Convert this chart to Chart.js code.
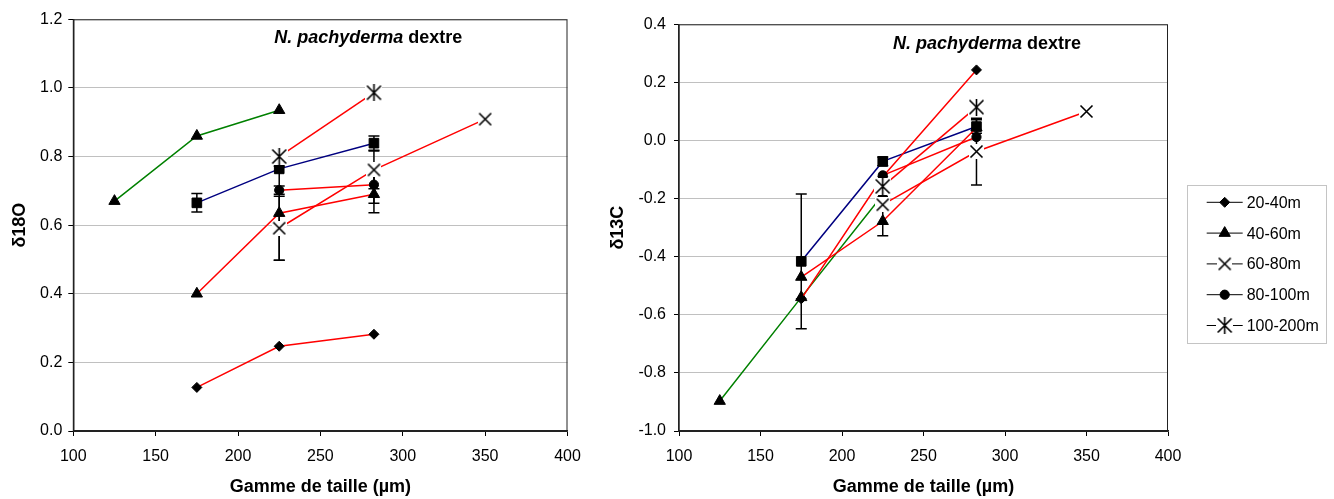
<!DOCTYPE html>
<html>
<head>
<meta charset="utf-8">
<script src="https://cdn.jsdelivr.net/npm/chart.js@4.4.1/dist/chart.umd.min.js"></script>
<style>
  html, body { margin: 0; padding: 0; background: #fff; }
  #wrap { position: relative; width: 1334px; height: 499px; }
  canvas { position: absolute; top: 0; }
  #o18 { left: 0; }
  #c13 { left: 600px; }
</style>
</head>
<body>
<div id="wrap">
  <canvas id="o18" width="600" height="499"></canvas>
  <canvas id="c13" width="734" height="499"></canvas>
</div>
<script>
// size ranges (µm) used by each group of points
const xGreen = [125, 175, 225];
const xMain = [175, 225, 282.5];
const xCross = [225, 282.5, 350];
const xPair = [225, 282.5];

// d18O values
const o18Green = [0.67, 0.86, 0.935];
const o18Square = [0.665, 0.764, 0.839];
const o18SquareErr = [0.027, 0, 0.021];
const o18Diamond = [0.127, 0.247, 0.282];
const o18Triangle = [0.40, 0.635, 0.69];
const o18TriangleErr = [0, 0.137, 0.054];
const o18Cross = [0.591, 0.761, 0.909];
const o18CrossErr = [0.093, 0.055, 0];
const o18Circle = [0.702, 0.718];
const o18CircleErr = [0.012, 0.054];
const o18Star = [0.80, 0.986];

// d13C values
const c13Green = [-0.897, -0.54, -0.187];
const c13Square = [-0.416, -0.072, 0.048];
const c13SquareErr = [0.232, 0.015, 0.023];
const c13Diamond = [-0.545, -0.125, 0.243];
const c13Triangle = [-0.47, -0.278, 0.044];
const c13TriangleErr = [0, 0.05, 0];
const c13Cross = [-0.221, -0.038, 0.10];
const c13CrossErr = [0, 0.115, 0];
const c13Circle = [-0.12, 0.012];
const c13Star = [-0.158, 0.115];

const legendLabels = ['20-40m', '40-60m', '60-80m', '80-100m', '100-200m'];
const titleItalic = 'N. pachyderma';
const titleRest = ' dextre';
const xTitle = 'Gamme de taille (µm)';

const RED = '#ff0000', GREEN = '#008000', BLUE = '#000080';
const FONT = '"Liberation Sans", Arial, sans-serif';
Chart.defaults.font.family = FONT;
Chart.defaults.color = '#000';

// x and asterisk markers have a white background like the excel ones
function markerImage(star) {
  const s = star ? 17 : 15;
  const c = document.createElement('canvas');
  c.width = s; c.height = s;
  const g = c.getContext('2d');
  g.fillStyle = '#fff';
  g.fillRect(0, 0, s, s);
  g.strokeStyle = '#000';
  g.lineWidth = 1.6;
  g.beginPath();
  g.moveTo(1.5, 1.5); g.lineTo(s - 1.5, s - 1.5);
  g.moveTo(s - 1.5, 1.5); g.lineTo(1.5, s - 1.5);
  if (star) { g.moveTo(s / 2, 0); g.lineTo(s / 2, s); }
  g.stroke();
  return c;
}
const crossImg = markerImage(false);
const starImg = markerImage(true);

// marker sizes
const R_DIAMOND = 5, R_TRIANGLE = 6.5, R_SQUARE = 6.8, R_CIRCLE = 4.6;

function series(label, xs, ys, color, style, radius, errs) {
  return {
    label: label,
    data: xs.map((x, i) => ({ x: x, y: ys[i] })),
    showLine: true,
    borderColor: color,
    borderWidth: 1.5,
    pointStyle: style,
    pointRadius: radius,
    pointBackgroundColor: '#000',
    pointBorderColor: '#000',
    pointBorderWidth: 1,
    errors: errs || null
  };
}

const errorBars = {
  id: 'errorBars',
  beforeDatasetsDraw(chart) {
    const { ctx } = chart;
    const x = chart.scales.x, y = chart.scales.y;
    ctx.save();
    ctx.strokeStyle = '#000';
    ctx.lineWidth = 1.5;
    chart.data.datasets.forEach(ds => {
      if (!ds.errors) return;
      ds.data.forEach((p, i) => {
        const e = ds.errors[i];
        if (!e) return;
        const px = x.getPixelForValue(p.x);
        const top = y.getPixelForValue(p.y + e);
        const bot = y.getPixelForValue(p.y - e);
        ctx.beginPath();
        ctx.moveTo(px, top); ctx.lineTo(px, bot);
        ctx.moveTo(px - 5.5, top); ctx.lineTo(px + 5.5, top);
        ctx.moveTo(px - 5.5, bot); ctx.lineTo(px + 5.5, bot);
        ctx.stroke();
      });
    });
    ctx.restore();
  }
};

const frameTitle = {
  id: 'frameTitle',
  beforeDatasetsDraw(chart) {
    const { ctx, chartArea: a } = chart;
    ctx.save();
    ctx.strokeStyle = '#222';
    ctx.lineWidth = 1;
    ctx.strokeRect(a.left, a.top + 0.5, a.right - a.left - 0.5, a.bottom - a.top);
    ctx.restore();
  },
  afterDraw(chart, args, o) {
    const { ctx, chartArea: a } = chart;
    ctx.save();
    ctx.fillStyle = '#000';
    ctx.textBaseline = 'alphabetic';
    const f1 = 'italic bold 18px ' + FONT, f2 = 'bold 18px ' + FONT;
    ctx.font = f1;
    const w1 = ctx.measureText(titleItalic).width;
    ctx.font = f2;
    const w2 = ctx.measureText(titleRest).width;
    const x0 = a.left + o.cx - (w1 + w2) / 2;
    const yb = a.top + o.baseline;
    ctx.font = f1;
    ctx.fillText(titleItalic, x0, yb);
    ctx.font = f2;
    ctx.fillText(titleRest, x0 + w1, yb);
    ctx.restore();
  }
};

const boxLegend = {
  id: 'boxLegend',
  afterDraw(chart, args, o) {
    if (!o.show) return;
    const { ctx } = chart;
    const marks = [
      { pointStyle: 'rectRot', radius: R_DIAMOND },
      { pointStyle: 'triangle', radius: R_TRIANGLE },
      { pointStyle: crossImg, radius: 6 },
      { pointStyle: 'circle', radius: R_CIRCLE },
      { pointStyle: starImg, radius: 6 }
    ];
    ctx.save();
    ctx.strokeStyle = '#888';
    ctx.lineWidth = 1;
    ctx.setLineDash([1, 1]);
    ctx.strokeRect(o.left + 0.5, o.top + 0.5, o.width, o.height);
    ctx.setLineDash([]);
    ctx.font = '16px ' + FONT;
    ctx.textBaseline = 'middle';
    legendLabels.forEach((lab, i) => {
      const y = o.row0 + i * o.step;
      ctx.strokeStyle = '#000';
      ctx.lineWidth = 1;
      ctx.beginPath();
      ctx.moveTo(o.lineX0, y); ctx.lineTo(o.lineX1, y);
      ctx.stroke();
      ctx.fillStyle = '#000';
      Chart.helpers.drawPoint(ctx, Object.assign({ rotation: 0, borderWidth: 1 }, marks[i]), (o.lineX0 + o.lineX1) / 2, y);
      ctx.fillStyle = '#000';
      ctx.fillText(lab, o.textX, y + 1);
    });
    ctx.restore();
  }
};

function makeChart(id, datasets, yMin, yMax, yTitle, cfg) {
  return new Chart(document.getElementById(id), {
    type: 'scatter',
    data: { datasets: datasets },
    plugins: [errorBars, frameTitle, boxLegend],
    options: {
      responsive: false,
      animation: false,
      events: [],
      layout: { padding: { left: 0, right: cfg.padRight, top: cfg.padTop, bottom: 0 } },
      scales: {
        x: {
          type: 'linear', min: 100, max: 400,
          afterFit(s) { s.height = 68; s.paddingLeft = 0; s.paddingRight = 0; },
          ticks: { stepSize: 50, font: { size: 16 }, color: '#000', padding: 11 },
          grid: { drawOnChartArea: false, tickLength: 5, tickColor: '#000' },
          border: { color: '#222', width: 1.5 },
          title: { display: true, text: xTitle, font: { size: 18, weight: 'bold' }, color: '#000', padding: { top: 0, bottom: 1 } }
        },
        y: {
          min: yMin, max: yMax,
          afterFit(s) { s.width = cfg.yWidth; s.paddingTop = 0; s.paddingBottom = 0; },
          ticks: {
            stepSize: 0.2, font: { size: 16 }, color: '#000', padding: cfg.yPad,
            callback: v => (Math.abs(v) < 1e-9 ? 0 : v).toFixed(1)
          },
          grid: { color: '#c0c0c0', lineWidth: 1, tickLength: 5, tickColor: '#000' },
          border: { color: '#222', width: 1.5 },
          title: { display: true, text: yTitle, font: { size: 18, weight: 'bold' }, color: '#000', padding: { top: cfg.yTitlePad, bottom: 0 } }
        }
      },
      plugins: {
        legend: { display: false },
        tooltip: { enabled: false },
        frameTitle: { cx: cfg.titleCx, baseline: cfg.titleBase },
        boxLegend: cfg.legend || { show: false }
      }
    }
  });
}

makeChart('o18', [
  series('100-200m', xPair, o18Star, RED, starImg, 7),
  series('60-80m', xCross, o18Cross, RED, crossImg, 7, o18CrossErr),
  series('80-100m', xPair, o18Circle, RED, 'circle', R_CIRCLE, o18CircleErr),
  series('40-60m', xMain, o18Triangle, RED, 'triangle', R_TRIANGLE, o18TriangleErr),
  series('20-40m', xMain, o18Diamond, RED, 'rectRot', R_DIAMOND),
  series('squares', xMain, o18Square, BLUE, 'rect', R_SQUARE, o18SquareErr),
  series('40-60m green', xGreen, o18Green, GREEN, 'triangle', R_TRIANGLE)
], 0, 1.2, 'δ18O', {
  padRight: 32.5, padTop: 19.3, yWidth: 73.3, yPad: 6, yTitlePad: 9,
  titleCx: 295, titleBase: 23.4
});

makeChart('c13', [
  series('100-200m', xPair, c13Star, RED, starImg, 7),
  series('60-80m', xCross, c13Cross, RED, crossImg, 7, c13CrossErr),
  series('80-100m', xPair, c13Circle, RED, 'circle', R_CIRCLE),
  series('40-60m', xMain, c13Triangle, RED, 'triangle', R_TRIANGLE, c13TriangleErr),
  series('20-40m', xMain, c13Diamond, RED, 'rectRot', R_DIAMOND),
  series('squares', xMain, c13Square, BLUE, 'rect', R_SQUARE, c13SquareErr),
  series('40-60m green', xGreen, c13Green, GREEN, 'triangle', R_TRIANGLE)
], -1.0, 0.4, 'δ13C', {
  padRight: 166, padTop: 24.3, yWidth: 79, yPad: 8, yTitlePad: 7,
  titleCx: 308, titleBase: 25,
  legend: {
    show: true, left: 587, top: 185, width: 139, height: 158,
    row0: 202.3, step: 30.8, lineX0: 606.7, lineX1: 642.7, textX: 646.7
  }
});
</script>
</body>
</html>
